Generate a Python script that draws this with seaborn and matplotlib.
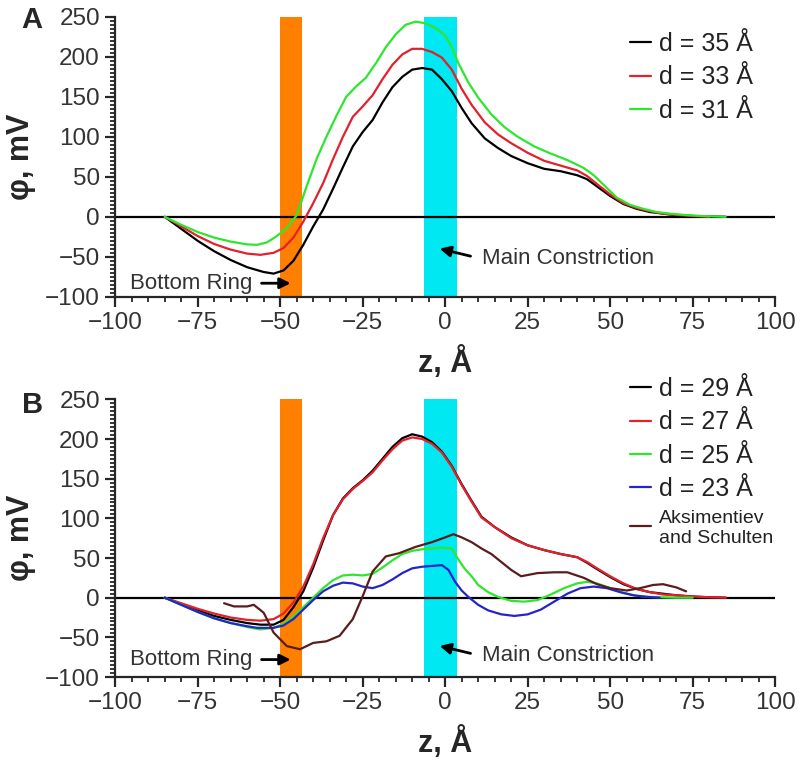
import matplotlib
matplotlib.use("Agg")
import matplotlib.pyplot as plt
import seaborn as sns
from matplotlib.ticker import MultipleLocator

# ---- panel A data (z in Angstrom, phi in mV) ----
z_a35 = [-85, -80, -75, -70, -65, -60, -55, -52, -49, -46, -43, -40, -37, -34, -31, -28, -25, -22,
         -19, -16, -13, -10, -7, -4, -1, 2, 5, 8, 12, 16, 20, 25, 30, 35, 40, 43, 46, 50, 54, 58,
         62, 66, 70, 75, 80, 85]
phi_a35 = [0, -15, -30, -43, -54, -63, -69, -71, -67, -55, -35, -12, 9, 35, 62, 88, 106, 121,
           143, 162, 175, 184, 186, 184, 172, 157, 136, 117, 98, 86, 76, 67, 60, 57, 52, 47, 38,
           26, 16, 10, 6, 4, 2, 1, 0.5, 0]

z_a33 = [-85, -80, -75, -70, -65, -60, -56, -52, -49, -46, -43, -40, -37, -34, -31, -28, -25, -22,
         -19, -16, -13, -10, -7, -4, -1, 2, 5, 8, 12, 16, 20, 25, 30, 35, 40, 43, 46, 50, 54, 58,
         62, 66, 70, 75, 80]
phi_a33 = [0, -12, -24, -34, -41, -46, -47.5, -45, -39, -26, -6, 17, 42, 72, 100, 125, 138, 152,
           172, 190, 203, 210, 210, 206, 199, 184, 160, 140, 118, 103, 92, 80, 70, 64, 58, 51, 41,
           28, 17, 11, 7, 4, 2.5, 1, 0]

z_a31 = [-85, -80, -75, -70, -65, -60, -57, -54, -51, -48, -45, -42, -39, -36, -33, -30, -27, -24,
         -21, -18, -15, -12, -9, -6, -3, 0, 2, 4, 7, 10, 14, 18, 22, 27, 32, 37, 42, 45, 48, 52,
         56, 60, 64, 68, 72, 78, 85]
phi_a31 = [0, -10, -19, -26, -31, -34.5, -35, -32, -24, -14, 2, 38, 72, 100, 126, 150, 163, 174,
           192, 212, 228, 240, 244, 242, 236, 227, 212, 192, 168, 149, 128, 112, 100, 88, 79, 71,
           61, 52, 40, 24, 15, 10, 6, 4, 2.5, 1, 0]

# ---- panel B data ----
z_b29 = [-85, -80, -75, -70, -65, -60, -56, -52, -49, -46, -43, -40, -37, -34, -31, -28, -25, -22,
         -19, -16, -13, -10, -7, -4, -1, 2, 5, 8, 11, 15, 20, 25, 30, 35, 40, 43, 46, 50, 54, 58,
         62, 66, 70, 75, 80, 85]
phi_b29 = [0, -8, -16, -23, -28, -32, -34, -34, -28, -12, 8, 38, 72, 104, 125, 138, 148, 160,
           175, 190, 201, 206, 203, 196, 184, 166, 143, 122, 102, 89, 76, 66, 60, 55, 51, 44, 36,
           26, 17, 11, 7, 5, 3, 1.5, 0.5, 0]
phi_b27 = [0, -7, -14, -20, -25, -28, -29, -27, -20, -6, 14, 42, 75, 104, 124, 137, 147, 158,
           173, 187, 198, 202, 200, 194, 183, 165, 142, 121, 101, 89, 75, 66, 60, 55, 51, 45, 37,
           27, 18, 11, 7, 4, 3, 1.5, 0.5, 0]

z_b25 = [-85, -80, -75, -70, -65, -60, -56, -52, -49, -46, -43, -40, -37, -34, -31, -28, -25, -22,
         -19, -16, -13, -10, -7, -4, -1, 2, 4, 6, 8, 10, 13, 16, 20, 24, 28, 32, 36, 40, 43, 46,
         50, 54, 58, 62, 66, 70, 75]
phi_b25 = [0, -9, -18, -26, -32, -37, -40, -38, -33, -24, -12, 0, 12, 22, 28, 29, 28, 30,
           38, 47, 55, 59, 61, 62, 63, 62, 48, 36, 27, 16, 7, 1, -4, -5, -3, 4, 12, 18, 20, 18,
           12, 6, 2.5, 1, 0.5, 0, 0]

z_b23 = [-85, -80, -75, -70, -65, -60, -57, -52, -49, -46, -43, -40, -37, -34, -31, -28, -25, -22,
         -19, -16, -13, -10, -7, -4, -1, 1, 3, 5, 7, 10, 13, 17, 21, 25, 29, 33, 37, 41, 45, 49,
         53, 57, 61, 65]
phi_b23 = [0, -9, -18, -26, -32, -36, -38, -38, -35, -27, -15, -3, 8, 15, 19, 18, 14, 12,
           16, 23, 31, 37, 39, 40, 41, 35, 20, 9, 1, -9, -16, -21, -23, -21, -15, -5, 5, 12, 14,
           12, 7, 3, 1, 0]

z_as = [-67, -64, -60, -58, -55, -52, -48, -44, -40, -36, -32, -28, -25, -22, -18, -14, -9, -4,
        0, 2.5, 5, 8, 11, 14, 17, 20, 23, 28, 33, 37, 42, 46, 50, 55, 59, 63, 66, 70, 73]
phi_as = [-7, -11, -11, -9, -19, -44, -61, -65, -57, -55, -48, -27, 2, 33, 52, 56, 64, 70,
          76, 80, 76, 70, 62, 55, 45, 35, 27, 31, 32, 32, 25, 17, 12, 9, 12, 16, 17, 13, 8]

panel_a = [(z_a35, phi_a35, "black", "d = 35 Å"),
           (z_a33, phi_a33, "#e3202b", "d = 33 Å"),
           (z_a31, phi_a31, "#2ee62e", "d = 31 Å")]
panel_b = [(z_b29, phi_b29, "black", "d = 29 Å"),
           (z_b29, phi_b27, "#e3202b", "d = 27 Å"),
           (z_b25, phi_b25, "#2ee62e", "d = 25 Å"),
           (z_b23, phi_b23, "#2424c8", "d = 23 Å"),
           (z_as, phi_as, "#5a1c1c", "Aksimentiev\nand Schulten")]

ring = (-50, -43.5)
constriction = (-6.5, 3.5)

sns.set_style("ticks")
plt.rcParams["font.family"] = ["Liberation Sans", "DejaVu Sans"]

fig = plt.figure(figsize=(8, 7.65), dpi=100)
ax_a = fig.add_axes([0.144, 0.612, 0.825, 0.366])
ax_b = fig.add_axes([0.144, 0.115, 0.825, 0.363])


def draw_panel(ax, series, mc_y, br_y):
    ax.axvspan(*ring, color="#ff8000", lw=0, zorder=0)
    ax.axvspan(*constriction, color="#00e8f2", lw=0, zorder=0)
    ax.axhline(0, color="black", lw=1.6, zorder=1)
    for z, phi, col, lab in series:
        sns.lineplot(x=z, y=phi, color=col, lw=1.6, ax=ax, label=lab,
                     estimator=None, sort=False, zorder=3)

    ax.set_xlim(-100, 100)
    ax.set_ylim(-100, 250)
    ax.xaxis.set_major_locator(MultipleLocator(25))
    ax.xaxis.set_minor_locator(MultipleLocator(5))
    ax.yaxis.set_major_locator(MultipleLocator(50))
    ax.yaxis.set_minor_locator(MultipleLocator(5))
    sns.despine(ax=ax)
    for s in ("left", "bottom"):
        ax.spines[s].set_linewidth(1.6)
    ax.tick_params(which="major", length=7, width=1.6, labelsize=17.5,
                   labelcolor="#333333", pad=4)
    ax.tick_params(which="minor", length=3.5, width=1.3)

    ax.set_xlabel("z, Å", fontsize=22, fontweight="bold", va="center")
    ax.set_ylabel("φ, mV", fontsize=22, fontweight="bold", va="center")
    ax.xaxis.set_label_coords(0.5, -0.235)
    ax.yaxis.set_label_coords(-0.142, 0.5)

    # annotations
    ax.text(-95.5, br_y, "Bottom Ring", fontsize=16, color="#333333", va="center")
    ax.annotate("", xy=(-46, br_y), xytext=(-56.5, br_y),
                arrowprops=dict(arrowstyle="-|>", color="black", lw=2, mutation_scale=16))
    ax.text(11, mc_y, "Main Constriction", fontsize=16, color="#333333", va="center")
    ax.annotate("", xy=(-2.5, mc_y + 13), xytext=(8.5, mc_y + 2),
                arrowprops=dict(arrowstyle="-|>", color="black", lw=2, mutation_scale=16))


draw_panel(ax_a, panel_a, mc_y=-52, br_y=-83)
draw_panel(ax_b, panel_b, mc_y=-73, br_y=-78)

leg_a = ax_a.legend(loc="upper left", bbox_to_anchor=(0.78, 0.945), frameon=False,
                    fontsize=18, handlelength=0.85, handletextpad=0.3, labelspacing=0.37,
                    borderpad=0, borderaxespad=0)
leg_b = ax_b.legend(loc="upper left", bbox_to_anchor=(0.78, 1.08), frameon=False,
                    fontsize=18, handlelength=0.85, handletextpad=0.3, labelspacing=0.37,
                    borderpad=0, borderaxespad=0)
for leg in (leg_a, leg_b):
    for t in leg.get_texts():
        t.set_color("#222222")
leg_b.get_texts()[-1].set_fontsize(14)

fig.text(0.027, 0.992, "A", fontsize=21, fontweight="heavy", va="top", ha="left")
fig.text(0.027, 0.489, "B", fontsize=21, fontweight="heavy", va="top", ha="left")

plt.savefig("out.png", dpi=100)
